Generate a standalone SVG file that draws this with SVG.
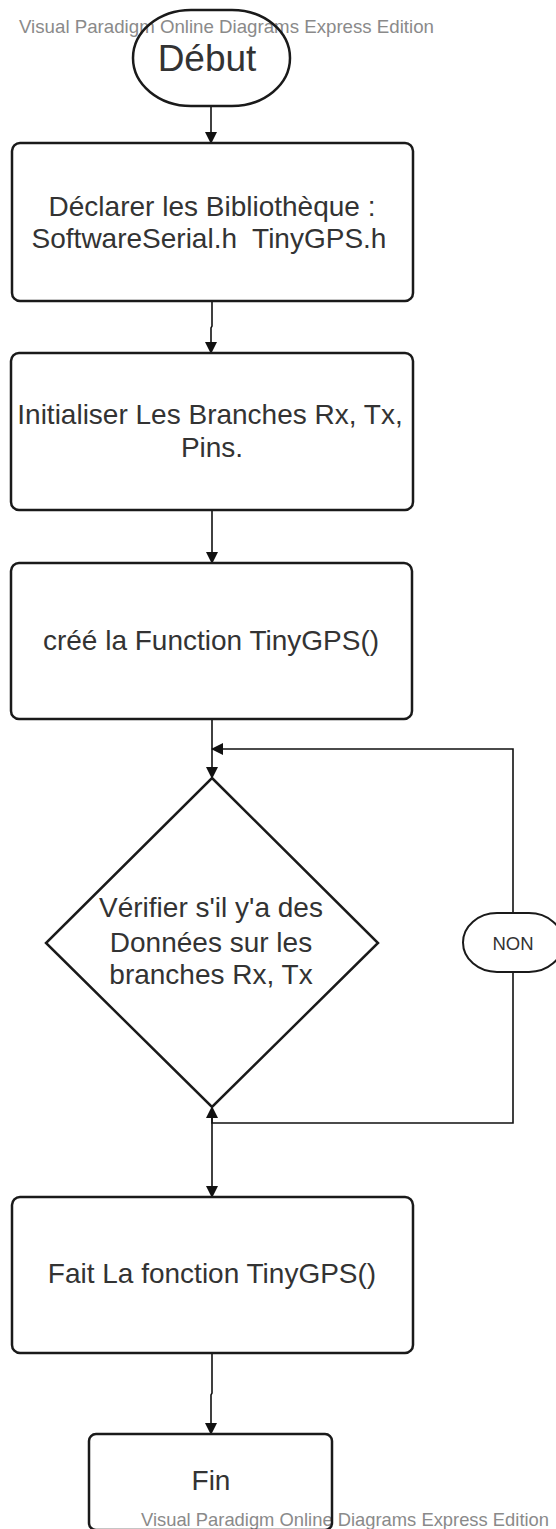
<svg xmlns="http://www.w3.org/2000/svg" width="556" height="1529" viewBox="0 0 556 1529">
  <style>
    .node { fill: none; stroke: #1a1a1a; stroke-width: 2.5; }
    .box { fill: #ffffff; stroke: #1a1a1a; stroke-width: 2.5; }
    .label { font-family: "Liberation Sans", Arial, sans-serif; font-size: 28px; fill: #333333; text-anchor: middle; }
    .wm { font-family: "Liberation Sans", Arial, sans-serif; font-size: 18.5px; fill: #8a8a8a; }
    .edge { fill: none; stroke: #111111; stroke-width: 1.6; }
  </style>
  <defs>
    <marker id="arrow" viewBox="0 0 12 12" refX="11" refY="6" markerWidth="12" markerHeight="12" markerUnits="userSpaceOnUse" orient="auto">
      <path d="M0,0 L12,6 L0,12 Z" fill="#111111"/>
    </marker>
  </defs>

  <rect x="0" y="0" width="556" height="1529" fill="#ffffff"/>

  <!-- edition watermarks -->
  <text class="wm" x="19" y="33" textLength="415" lengthAdjust="spacingAndGlyphs">Visual Paradigm Online Diagrams Express Edition</text>
  <text class="wm" x="141" y="1526" textLength="408" lengthAdjust="spacingAndGlyphs">Visual Paradigm Online Diagrams Express Edition</text>

  <!-- connectors -->
  <g id="connectors">
    <path class="edge" d="M211,106 L211,143" marker-end="url(#arrow)"/>
    <path class="edge" d="M212,301 L212,326 L211,328 L211,353" marker-end="url(#arrow)"/>
    <path class="edge" d="M212,510 L212,563" marker-end="url(#arrow)"/>
    <path class="edge" d="M212,719 L212,778" marker-end="url(#arrow)"/>
    <path class="edge" d="M513,913 L513,749 L212,749" marker-end="url(#arrow)"/>
    <path class="edge" d="M513,972 L513,1123 L212,1123 L212,1107" marker-end="url(#arrow)"/>
    <path class="edge" d="M212,1107 L212,1197" marker-end="url(#arrow)"/>
    <path class="edge" d="M212,1353 L212,1393 L211,1395 L211,1434" marker-end="url(#arrow)"/>
  </g>

  <g id="debut">
    <rect class="node" x="133" y="10" width="157" height="96" rx="58" ry="48"/>
    <text class="label" x="207" y="71" style="font-size:37px">Début</text>
  </g>

  <g id="declarer">
    <rect class="box" x="12" y="143" width="401" height="158" rx="8"/>
    <text class="label" x="212" y="216">Déclarer les Bibliothèque :</text>
    <text class="label" x="209" y="248" xml:space="preserve">SoftwareSerial.h  TinyGPS.h</text>
  </g>

  <g id="initialiser">
    <rect class="box" x="11" y="353" width="402" height="157" rx="8"/>
    <text class="label" x="210" y="424">Initialiser Les Branches Rx, Tx,</text>
    <text class="label" x="212" y="457">Pins.</text>
  </g>

  <g id="creer">
    <rect class="box" x="11" y="563" width="401" height="156" rx="8"/>
    <text class="label" x="211" y="650">créé la Function TinyGPS()</text>
  </g>

  <g id="verifier">
    <polygon class="box" points="212,778 378,943 212,1107 46,943"/>
    <text class="label" x="211" y="917">Vérifier s'il y'a des</text>
    <text class="label" x="211" y="952">Données sur les</text>
    <text class="label" x="211" y="984">branches Rx, Tx</text>
  </g>

  <g id="non">
    <rect class="box" x="463" y="913" width="100" height="59" rx="34" ry="29.5" style="stroke-width:2"/>
    <text class="label" x="513" y="950" style="font-size:18.5px">NON</text>
  </g>

  <g id="fait">
    <rect class="box" x="12" y="1197" width="401" height="156" rx="8"/>
    <text class="label" x="212" y="1283">Fait La fonction TinyGPS()</text>
  </g>

  <g id="fin">
    <rect class="node" x="89" y="1434" width="243" height="96" rx="7"/>
    <text class="label" x="211" y="1490">Fin</text>
  </g>
</svg>
